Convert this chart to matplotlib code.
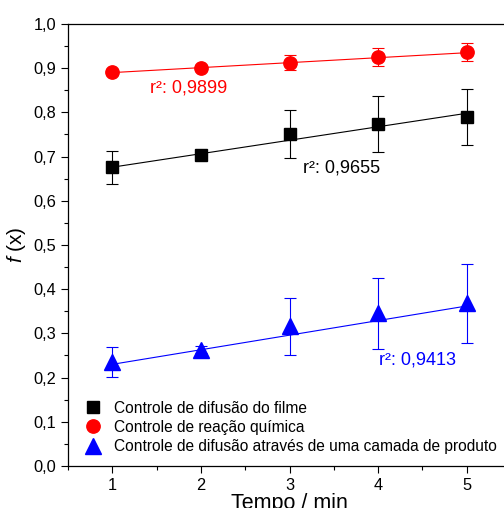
import matplotlib
matplotlib.use('Agg')
import matplotlib.pyplot as plt
from matplotlib.ticker import MultipleLocator, FormatStrFormatter, FuncFormatter

plt.rcParams['font.family'] = ['Liberation Sans', 'DejaVu Sans']
plt.rcParams['mathtext.fontset'] = 'custom'
plt.rcParams['mathtext.it'] = 'Liberation Sans:italic'
plt.rcParams['mathtext.rm'] = 'Liberation Sans'

# Time points (min)
tempo = [1, 2, 3, 4, 5]

# f(x) for each kinetic model, with standard deviations
f_filme = [0.676, 0.704, 0.751, 0.774, 0.790]
err_filme = [0.037, 0.008, 0.054, 0.063, 0.064]
f_reacao = [0.892, 0.901, 0.912, 0.925, 0.937]
err_reacao = [0.005, 0.006, 0.017, 0.020, 0.021]
f_camada = [0.236, 0.263, 0.316, 0.345, 0.368]
err_camada = [0.034, 0.008, 0.064, 0.080, 0.089]

# Linear fits (values at t = 1 and t = 5)
fit_x = [1, 5]
fit_filme = [0.676, 0.798]
fit_reacao = [0.890, 0.935]
fit_camada = [0.230, 0.362]

r2_labels = ['r²: 0,9655', 'r²: 0,9899', 'r²: 0,9413']
legend_labels = ['Controle de difusão do filme',
                 'Controle de reação química',
                 'Controle de difusão através de uma camada de produto']

fig = plt.figure(figsize=(5.04, 5.08), dpi=100)
ax = fig.add_axes([0.135, 0.0827, 0.879, 0.8701])

series = [
    (f_filme, err_filme, fit_filme, 'black', 's', 8.6),
    (f_reacao, err_reacao, fit_reacao, 'red', 'o', 9.6),
    (f_camada, err_camada, fit_camada, 'blue', '^', 12),
]
handles = []
for (y, e, fit, c, m, ms), lab in zip(series, legend_labels):
    ax.plot(fit_x, fit, color=c, lw=0.8, zorder=2)
    ax.errorbar(tempo, y, yerr=e, fmt='none', ecolor=c, elinewidth=0.8,
                capsize=4.3, capthick=0.8, zorder=3)
    h, = ax.plot(tempo, y, ls='none', marker=m, ms=ms, color=c, mec=c,
                 label=lab, zorder=4)
    handles.append(h)

ax.text(3.15, 0.674, r2_labels[0], color='black', fontsize=13, ha='left', va='center')
ax.text(1.43, 0.855, r2_labels[1], color='red', fontsize=13, ha='left', va='center')
ax.text(4.01, 0.240, r2_labels[2], color='blue', fontsize=13, ha='left', va='center')

ax.set_xlim(0.5, 5.5)
ax.set_ylim(0, 1.0)
ax.xaxis.set_major_locator(MultipleLocator(1))
ax.xaxis.set_minor_locator(MultipleLocator(0.5))
ax.yaxis.set_major_locator(MultipleLocator(0.1))
ax.yaxis.set_minor_locator(MultipleLocator(0.05))
ax.yaxis.set_major_formatter(FuncFormatter(lambda v, p: f'{v:.1f}'.replace('.', ',')))
ax.xaxis.set_major_formatter(FormatStrFormatter('%d'))
ax.tick_params(which='both', direction='out', top=False, right=False, labelsize=11.8)
ax.tick_params(which='major', length=5, width=0.8)
ax.tick_params(which='minor', length=3, width=0.8)
for s in ax.spines.values():
    s.set_linewidth(0.9)

ax.set_xlabel('Tempo / min', fontsize=15.5, labelpad=0.5)
ax.set_ylabel(r'$f$ (x)', fontsize=15, labelpad=4)

ax.legend(handles=handles, loc='lower left', bbox_to_anchor=(0.035, 0.027),
          frameon=False, fontsize=11.2, handletextpad=0.75, labelspacing=0.27,
          borderaxespad=0, borderpad=0, handlelength=1.2, markerscale=1.0)

fig.savefig('out.png', dpi=100)
